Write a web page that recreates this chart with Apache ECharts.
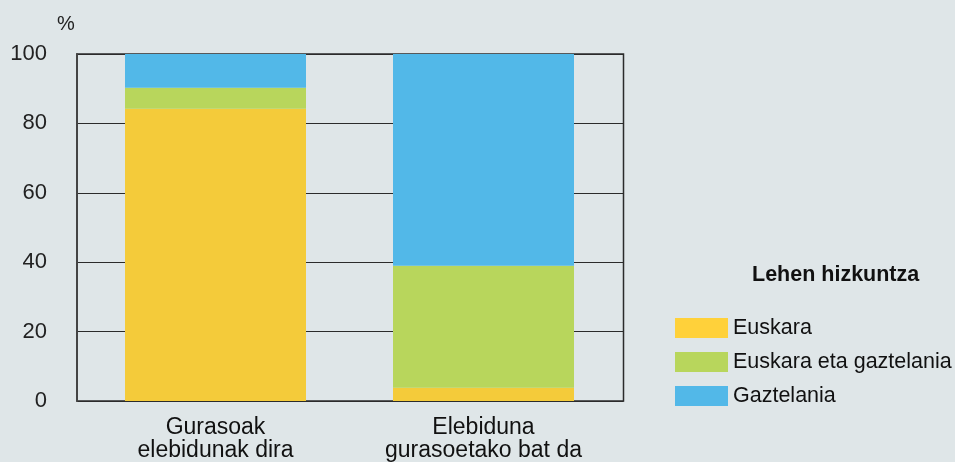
<!DOCTYPE html>
<html><head><meta charset="utf-8">
<script src="https://cdn.jsdelivr.net/npm/echarts@6/dist/echarts.min.js"></script>
<style>html,body{margin:0;padding:0;background:#dfe6e8;}#c{width:955px;height:462px;}</style>
</head><body><div id="c"></div>
<script>
const categories = ['Gurasoak\nelebidunak dira', 'Elebiduna\ngurasoetako bat da'];
const seriesNames = ['Euskara', 'Euskara eta gaztelania', 'Gaztelania'];
const euskara = [84.2, 3.8];
const biak = [6.1, 35.2];
const gaztelania = [9.7, 61.0];
const yTicks = [0, 20, 40, 60, 80, 100];
const colors = ['#f4cb3a', '#b8d65c', '#52b8e8'];
const font = '"Liberation Sans", Arial, sans-serif';

const chart = echarts.init(document.getElementById('c'));
const mk = (name, data, i) => ({
  name, type: 'bar', stack: 'total', data, xAxisIndex: 1, yAxisIndex: 1,
  barWidth: 181, itemStyle: { color: colors[i] }, z: 5
});
chart.setOption({
  backgroundColor: '#dfe6e8',
  animation: false,
  textStyle: { fontFamily: font },
  title: [
    { text: '%', left: 52, top: 9, textStyle: { fontSize: 20, fontWeight: 'normal', color: '#222', fontFamily: font } },
    { text: 'Lehen hizkuntza', left: 747, top: 259, textStyle: { fontSize: 21.5, fontWeight: 'bold', color: '#111', fontFamily: font } }
  ],
  legend: {
    data: seriesNames.map((n, i) => ({ name: n, itemStyle: { color: i === 0 ? '#ffd13a' : colors[i] } })),
    orient: 'vertical', left: 675, top: 317, padding: 0, itemWidth: 53, itemHeight: 20, itemGap: 12,
    icon: 'rect', textStyle: { fontSize: 21.5, color: '#111', fontFamily: font }
  },
  grid: [
    { left: 77, right: 331.5, top: 54, bottom: 61, outerBoundsMode: 'none', show: true, borderColor: '#2b2b2b', borderWidth: 1.5, backgroundColor: 'transparent' },
    { left: 81.5, width: 536, top: 54, bottom: 61, outerBoundsMode: 'none' }
  ],
  xAxis: [
    { gridIndex: 0, type: 'category', data: categories, show: false },
    { gridIndex: 1, type: 'category', data: categories,
      axisLine: { show: false }, axisTick: { show: false },
      axisLabel: { fontSize: 23, color: '#111', lineHeight: 23, margin: 15, fontFamily: font } }
  ],
  yAxis: [
    { gridIndex: 0, type: 'value', min: 0, max: 100, interval: 20,
      axisLine: { show: true, lineStyle: { color: '#444', width: 2 } }, axisTick: { show: false },
      splitLine: { show: true, lineStyle: { color: '#2b2b2b', width: 1.2 } },
      axisLabel: { fontSize: 22, color: '#222', margin: 30, fontFamily: font,
        formatter: v => yTicks.includes(v) ? String(v) : '' } },
    { gridIndex: 1, type: 'value', min: 0, max: 100, interval: 20, show: false, splitLine: { show: false } }
  ],
  series: [mk(seriesNames[0], euskara, 0), mk(seriesNames[1], biak, 1), mk(seriesNames[2], gaztelania, 2)]
});
</script></body></html>
